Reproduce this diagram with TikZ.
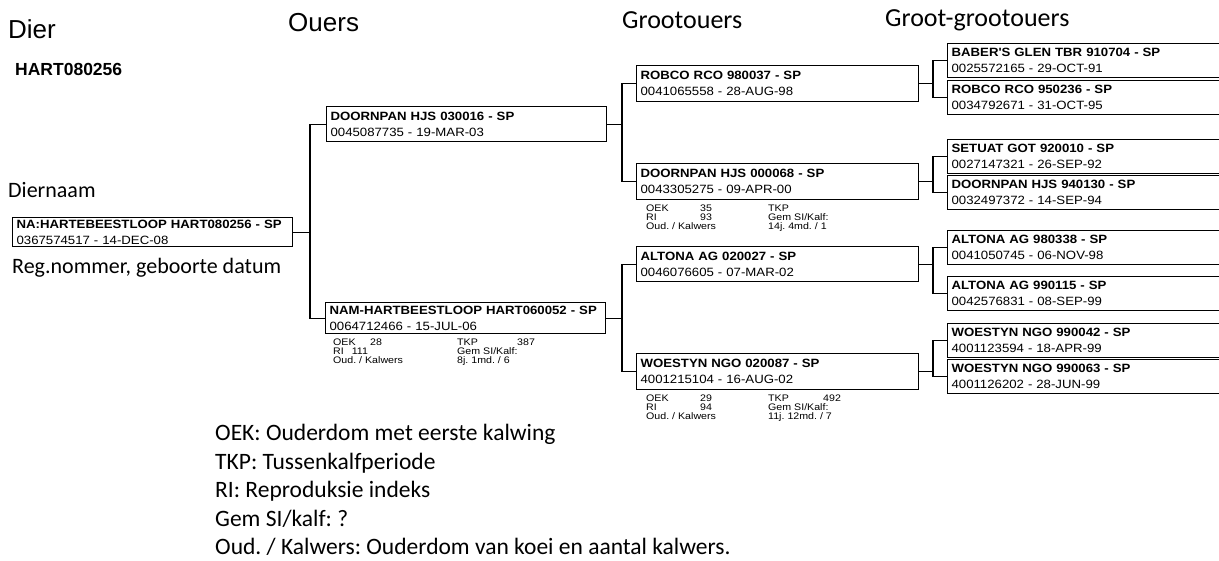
\documentclass[tikz,border=0pt]{standalone}
\usepackage{fontspec}
\usepackage{array}
\setmainfont{Liberation Sans}
\newfontfamily\calfont{Carlito}
\newfontfamily\statfont[FakeStretch=1.12]{Liberation Sans}
\newfontfamily\boxfont[FakeStretch=1.1]{Liberation Sans}
\usetikzlibrary{calc}
\frenchspacing
\newcommand{\pbx}[7]{\node[#1, minimum height=#5pt] (#2) at (#3,#4) {{\bfseries #6}\\{#7}};}
\begin{document}
\begin{tikzpicture}[x=1pt,y=-1pt,
  box/.style={draw, line width=1.2pt, anchor=north west, inner xsep=4pt, inner ysep=0pt,
    minimum width=280pt, text width=272pt, align=left, font=\boxfont\fontsize{12}{16}\selectfont},
  gpbox/.style={box, minimum width=282pt, text width=274pt},
  ggbox/.style={box, minimum width=300pt, text width=292pt},
  conn/.style={line width=1.1pt},
  stat/.style={anchor=north west, inner sep=0pt, font=\statfont\fontsize{9.5}{8.6}\selectfont},
  hdr/.style={anchor=west, inner sep=0pt, font=\fontsize{26}{30}\selectfont},
  chdr/.style={anchor=west, inner sep=0pt, font=\calfont\fontsize{26}{30}\selectfont},
  ctext/.style={anchor=west, inner sep=0pt, font=\calfont\fontsize{22}{26}\selectfont},
  ltext/.style={anchor=west, inner sep=0pt, font=\calfont\fontsize{23.5}{28}\selectfont}]
\useasboundingbox (0,0) rectangle (1219,560);
\clip (0,0) rectangle (1219,560);

% headers
\node[hdr] (hDier) at (8,29) {Dier};
\node[hdr] (hOuers) at (288,23) {Ouers};
\node[chdr] (hGo) at (622,20) {Grootouers};
\node[chdr] (hGgo) at (885,20) {Groot-grootouers};
\node[anchor=west, inner sep=0pt, font=\bfseries\fontsize{17.5}{20}\selectfont] (hart) at (15,69) {HART080256};
\node[ctext] (diernaam) at (8,190) {Diernaam};
\node[ctext] (reg) at (12,268) {Reg.nommer, geboorte datum};

% subject and parents
\pbx{box}{s}{12}{217}{29}{NA:HARTEBEESTLOOP HART080256 - SP}{0367574517 - 14-DEC-08}
\pbx{box}{f}{326}{106}{35}{DOORNPAN HJS 030016 - SP}{0045087735 - 19-MAR-03}
\pbx{box}{m}{325}{302}{31}{NAM-HARTBEESTLOOP HART060052 - SP}{0064712466 - 15-JUL-06}

% grandparents
\pbx{gpbox}{g1}{636}{65}{36}{ROBCO RCO 980037 - SP}{0041065558 - 28-AUG-98}
\pbx{gpbox}{g2}{636}{163}{36}{DOORNPAN HJS 000068 - SP}{0043305275 - 09-APR-00}
\pbx{gpbox}{g3}{636}{246}{35}{ALTONA AG 020027 - SP}{0046076605 - 07-MAR-02}
\pbx{gpbox}{g4}{636}{353}{36}{WOESTYN NGO 020087 - SP}{4001215104 - 16-AUG-02}

% great-grandparents
\pbx{ggbox}{gg1}{947}{43}{34}{BABER'S GLEN TBR 910704 - SP}{0025572165 - 29-OCT-91}
\pbx{ggbox}{gg2}{947}{80}{34}{ROBCO RCO 950236 - SP}{0034792671 - 31-OCT-95}
\pbx{ggbox}{gg3}{947}{139}{34}{SETUAT GOT 920010 - SP}{0027147321 - 26-SEP-92}
\pbx{ggbox}{gg4}{947}{175}{34}{DOORNPAN HJS 940130 - SP}{0032497372 - 14-SEP-94}
\pbx{ggbox}{gg5}{947}{230}{34}{ALTONA AG 980338 - SP}{0041050745 - 06-NOV-98}
\pbx{ggbox}{gg6}{947}{276}{34}{ALTONA AG 990115 - SP}{0042576831 - 08-SEP-99}
\pbx{ggbox}{gg7}{947}{323}{34}{WOESTYN NGO 990042 - SP}{4001123594 - 18-APR-99}
\pbx{ggbox}{gg8}{947}{359}{34}{WOESTYN NGO 990063 - SP}{4001126202 - 28-JUN-99}

% stats
\node[stat] (ms) at ($(m.south west)+(8,4)$) {\begin{tabular}{@{}w{l}{37pt}@{}w{l}{87pt}@{}w{l}{60pt}@{}l@{}}
OEK & 28 & TKP & 387\\
\multicolumn{2}{@{}l}{RI\hspace{8pt}111} & Gem SI/Kalf: & \\
\multicolumn{2}{@{}l}{Oud. / Kalwers} & 8j. 1md. / 6 &
\end{tabular}};
\node[stat] (g2s) at ($(g2.south west)+(10,4)$) {\begin{tabular}{@{}w{l}{54pt}@{}w{l}{68pt}@{}w{l}{55pt}@{}l@{}}
OEK & 35 & TKP & \\
RI & 93 & Gem SI/Kalf: & \\
\multicolumn{2}{@{}l}{Oud. / Kalwers} & 14j. 4md. / 1 &
\end{tabular}};
\node[stat] (g4s) at ($(g4.south west)+(10,4)$) {\begin{tabular}{@{}w{l}{54pt}@{}w{l}{68pt}@{}w{l}{55pt}@{}l@{}}
OEK & 29 & TKP & 492\\
RI & 94 & Gem SI/Kalf: & \\
\multicolumn{2}{@{}l}{Oud. / Kalwers} & 11j. 12md. / 7 &
\end{tabular}};

% connectors
\coordinate (j0) at (310,0);
\coordinate (j1) at (622,0);
\coordinate (j2) at (933,0);
\draw[conn] (s.east) -- (s.east -| j0);
\draw[conn] (f.west) -- (f.west -| j0) -- (m.west -| j0) -- (m.west);
\draw[conn] (f.east) -- (f.east -| j1);
\draw[conn] (g1.west) -- (g1.west -| j1) -- (g2.west -| j1) -- (g2.west);
\draw[conn] (m.east) -- (m.east -| j1);
\draw[conn] (g3.west) -- (g3.west -| j1) -- (g4.west -| j1) -- (g4.west);
\draw[conn] (g1.east) -- (g1.east -| j2);
\draw[conn] (gg1.west) -- (gg1.west -| j2) -- (gg2.west -| j2) -- (gg2.west);
\draw[conn] (g2.east) -- (g2.east -| j2);
\draw[conn] (gg3.west) -- (gg3.west -| j2) -- (gg4.west -| j2) -- (gg4.west);
\draw[conn] (g3.east) -- (g3.east -| j2);
\draw[conn] (gg5.west) -- (gg5.west -| j2) -- (gg6.west -| j2) -- (gg6.west);
\draw[conn] (g4.east) -- (g4.east -| j2);
\draw[conn] (gg7.west) -- (gg7.west -| j2) -- (gg8.west -| j2) -- (gg8.west);

% legend
\node[ltext] (l1) at (215,434) {OEK: Ouderdom met eerste kalwing};
\node[ltext] (l2) at (215,463) {TKP: Tussenkalfperiode};
\node[ltext] (l3) at (215,491) {RI: Reproduksie indeks};
\node[ltext] (l4) at (215,519) {Gem SI/kalf: ?};
\node[ltext] (l5) at (215,547) {Oud. / Kalwers: Ouderdom van koei en aantal kalwers.};
\end{tikzpicture}
\end{document}
